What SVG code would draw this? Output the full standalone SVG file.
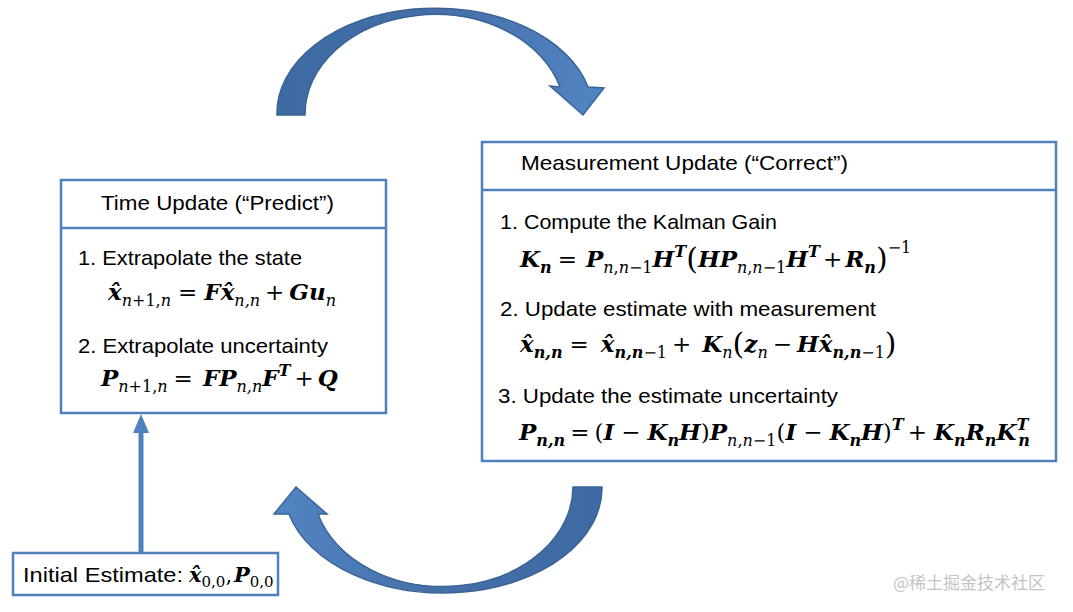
<svg xmlns="http://www.w3.org/2000/svg" width="1073" height="612" viewBox="0 0 1073 612">
<style>
.box{fill:#fff;stroke:#4f81bd;stroke-width:2.5}
.div{stroke:#4f81bd;stroke-width:2.5}
.t{font-family:"Liberation Sans",Arial,sans-serif;font-size:21px;fill:#000}
.m{font-family:"DejaVu Serif","Liberation Serif",serif;font-size:23px;font-style:italic;font-weight:bold;fill:#000}
.r{font-weight:normal}
.u{font-style:normal;font-weight:normal}
.s{font-size:16px}
.p{font-size:30px;font-style:normal;font-weight:normal}
.arc{stroke:#3b6496;stroke-width:1.5}
.wm{font-family:"Noto Sans CJK SC","Noto Sans",sans-serif;font-size:17px;fill:#c4c4c4}
</style>
<defs>
<linearGradient id="gTop" x1="0" y1="0" x2="1" y2="0">
<stop offset="0" stop-color="#3d6aa2"/><stop offset="0.5" stop-color="#456fa8"/><stop offset="1" stop-color="#5185c3"/>
</linearGradient>
<linearGradient id="gBot" x1="1" y1="0" x2="0" y2="0">
<stop offset="0" stop-color="#3d6aa2"/><stop offset="0.5" stop-color="#456fa8"/><stop offset="1" stop-color="#5185c3"/>
</linearGradient>
</defs>
<rect width="1073" height="612" fill="#fff"/>

<g id="connectors">
<path id="arrow-predict-to-correct" class="arc" fill="url(#gTop)" d="M 277 115 A 158 105 0 0 1 588 87 L 604 88 L 583 115 L 550 86 L 560 87 A 130 100 0 0 0 305 115 Z"/>
<path id="arrow-correct-to-predict" class="arc" fill="url(#gBot)" d="M 602 487 A 159 105 0 0 1 289 514 L 274 514 L 296 487 L 327 514 L 318 514 A 130 100 0 0 0 573 487 Z"/>
<g id="arrow-init">
<line x1="141" y1="553" x2="141" y2="430" stroke="#4f81bd" stroke-width="5"/>
<polygon points="133,433 149,433 141,414" fill="#4f81bd"/>
</g>
</g>

<g id="node-time-update">
<rect class="box" x="61" y="180" width="325" height="233"/>
<line class="div" x1="61" y1="228" x2="386" y2="228"/>
<text class="t" x="101" y="210" textLength="233" lengthAdjust="spacingAndGlyphs">Time Update (“Predict”)</text>
<text class="t" x="78" y="265" textLength="224" lengthAdjust="spacingAndGlyphs">1. Extrapolate the state</text>
<text class="m" x="108" y="300">x̂<tspan class="s r" dy="6">n</tspan><tspan class="s u">+1,</tspan><tspan class="s r">n</tspan><tspan class="u" dx="7" dy="-6">=</tspan><tspan dx="7">F</tspan>x̂<tspan class="s r" dy="6">n,n</tspan><tspan class="u" dx="5" dy="-6">+</tspan><tspan dx="5">G</tspan>u<tspan class="s r" dy="6">n</tspan></text>
<text class="t" x="78" y="353" textLength="250" lengthAdjust="spacingAndGlyphs">2. Extrapolate uncertainty</text>
<text class="m" x="101" y="386">P<tspan class="s r" dy="6">n</tspan><tspan class="s u">+1,</tspan><tspan class="s r">n</tspan><tspan class="u" dx="6" dy="-6">=</tspan><tspan dx="10">F</tspan>P<tspan class="s r" dy="6">n,n</tspan><tspan dy="-6">F</tspan><tspan class="s" dy="-10">T</tspan><tspan class="u" dx="4" dy="10">+</tspan><tspan dx="4">Q</tspan></text>
</g>

<g id="node-measurement-update">
<rect class="box" x="482" y="142" width="574" height="319"/>
<line class="div" x1="482" y1="190" x2="1056" y2="190"/>
<text class="t" x="521" y="170" textLength="327" lengthAdjust="spacingAndGlyphs">Measurement Update (“Correct”)</text>
<text class="t" x="500" y="229" textLength="277" lengthAdjust="spacingAndGlyphs">1. Compute the Kalman Gain</text>
<text class="m" x="520" y="267">K<tspan class="s" dy="6">n</tspan><tspan class="u" dx="6" dy="-6">=</tspan><tspan dx="9">P</tspan><tspan class="s r" dy="6">n</tspan><tspan class="s u">,</tspan><tspan class="s r">n</tspan><tspan class="s u">−1</tspan><tspan dy="-6">H</tspan><tspan class="s" dy="-10">T</tspan><tspan class="p" dy="12">(</tspan><tspan dy="-2">H</tspan>P<tspan class="s r" dy="6">n</tspan><tspan class="s u">,</tspan><tspan class="s r">n</tspan><tspan class="s u">−1</tspan><tspan dy="-6">H</tspan><tspan class="s" dy="-10">T</tspan><tspan class="u" dx="3" dy="10">+</tspan><tspan dx="3">R</tspan><tspan class="s" dy="6">n</tspan><tspan class="p" dy="-4">)</tspan><tspan class="s u" dy="-16">−1</tspan></text>
<text class="t" x="500" y="316" textLength="376" lengthAdjust="spacingAndGlyphs">2. Update estimate with measurement</text>
<text class="m" x="520" y="352">x̂<tspan class="s" dy="6">n,n</tspan><tspan class="u" dx="7" dy="-6">=</tspan><tspan dx="12">x̂</tspan><tspan class="s" dy="6">n,n</tspan><tspan class="s u">−1</tspan><tspan class="u" dx="5" dy="-6">+</tspan><tspan dx="11">K</tspan><tspan class="s r" dy="6">n</tspan><tspan class="p" dy="-4">(</tspan><tspan dy="-2">z</tspan><tspan class="s r" dy="6">n</tspan><tspan class="u" dx="5" dy="-6">−</tspan><tspan dx="5">H</tspan>x̂<tspan class="s" dy="6">n,n</tspan><tspan class="s u">−1</tspan><tspan class="p" dy="-4">)</tspan></text>
<text class="t" x="498" y="403" textLength="340" lengthAdjust="spacingAndGlyphs">3. Update the estimate uncertainty</text>
<text class="m" x="519" y="440">P<tspan class="s" dy="6">n,n</tspan><tspan class="u" dx="5" dy="-6">=</tspan><tspan class="u" dx="5">(</tspan>I<tspan class="u" dx="7">−</tspan><tspan dx="7">K</tspan><tspan class="s" dy="6">n</tspan><tspan dy="-6">H</tspan><tspan class="u">)</tspan>P<tspan class="s r" dy="6">n</tspan><tspan class="s u">,</tspan><tspan class="s r">n</tspan><tspan class="s u">−1</tspan><tspan class="u" dy="-6">(</tspan>I<tspan class="u" dx="7">−</tspan><tspan dx="7">K</tspan><tspan class="s" dy="6">n</tspan><tspan dy="-6">H</tspan><tspan class="u">)</tspan><tspan class="s" dy="-10">T</tspan><tspan class="u" dx="4" dy="10">+</tspan><tspan dx="7">K</tspan><tspan class="s" dy="6">n</tspan><tspan dy="-6">R</tspan><tspan class="s" dy="6">n</tspan><tspan dy="-6">K</tspan><tspan class="s" dy="-10">T</tspan><tspan class="s" dx="-10" dy="16">n</tspan></text>
</g>

<g id="node-initial-estimate">
<rect class="box" x="13" y="553" width="265" height="42"/>
<text class="t" x="23" y="582" textLength="160" lengthAdjust="spacingAndGlyphs">Initial Estimate:</text>
<text class="m" y="582" style="font-size:21px"><tspan x="189">x̂</tspan><tspan class="s u" style="font-size:15px" dy="5">0,0</tspan><tspan class="u" dy="-5">,</tspan><tspan x="234">P</tspan><tspan class="s u" style="font-size:15px" dy="5">0,0</tspan></text>
</g>

<text class="wm" x="893" y="589">@稀土掘金技术社区</text>
</svg>
